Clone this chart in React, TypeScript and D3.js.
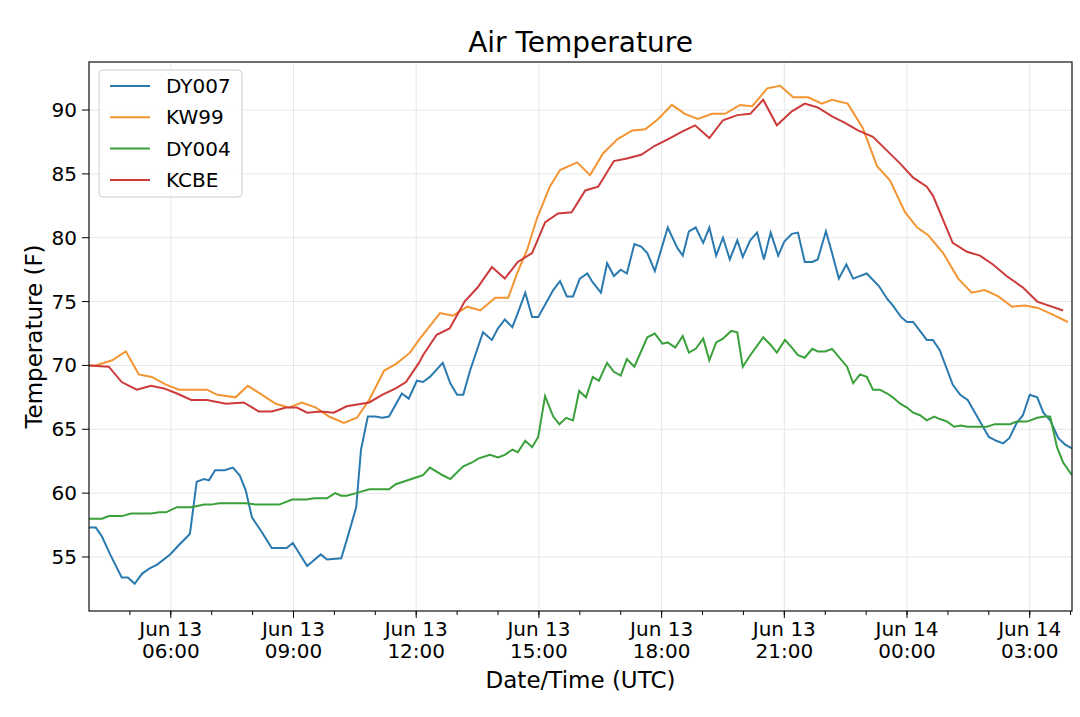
import React from "react";
import * as d3 from "d3";

// [minutes after Jun 13 04:00 UTC, °F]
const DY007: [number, number][] = [[0,57.3],[10,57.3],[19,56.6],[31,55.2],[48,53.4],[57,53.4],[67,52.9],[78,53.7],[89,54.1],[100,54.4],[119,55.2],[133,56.0],[148,56.8],[158,60.9],[169,61.1],[176,61.0],[185,61.8],[199,61.8],[211,62.0],[221,61.4],[230,60.2],[239,58.1],[253,57.0],[268,55.7],[290,55.7],[299,56.1],[320,54.3],[340,55.2],[349,54.8],[370,54.9],[378,56.3],[392,58.9],[399,63.4],[409,66.0],[420,66.0],[430,65.9],[440,66.0],[459,67.8],[469,67.4],[481,68.8],[490,68.7],[500,69.1],[519,70.2],[530,68.6],[540,67.7],[549,67.7],[559,69.6],[578,72.6],[591,72.0],[600,72.9],[610,73.6],[621,73.0],[629,74.1],[640,75.7],[650,73.8],[659,73.8],[681,75.9],[691,76.6],[701,75.4],[710,75.4],[720,76.8],[731,77.2],[739,76.5],[751,75.7],[760,78.0],[770,77.0],[780,77.5],[789,77.2],[800,79.5],[810,79.3],[819,78.8],[830,77.4],[849,80.8],[863,79.2],[871,78.6],[880,80.5],[890,80.8],[901,79.6],[910,80.8],[920,78.6],[930,80.0],[940,78.3],[951,79.8],[959,78.5],[970,79.8],[980,80.4],[990,78.3],[1000,80.4],[1011,78.6],[1020,79.7],[1031,80.3],[1040,80.4],[1050,78.1],[1061,78.1],[1069,78.3],[1081,80.5],[1090,78.8],[1100,76.8],[1111,77.9],[1121,76.8],[1141,77.2],[1159,76.2],[1171,75.2],[1179,74.7],[1191,73.8],[1200,73.4],[1209,73.4],[1229,72.0],[1238,72.0],[1248,71.2],[1267,68.5],[1278,67.7],[1289,67.3],[1307,65.6],[1320,64.4],[1331,64.1],[1341,63.9],[1350,64.3],[1361,65.5],[1370,66.1],[1380,67.7],[1391,67.5],[1400,66.3],[1410,65.7],[1422,64.3],[1432,63.8],[1442,63.5]];
const KW99: [number, number][] = [[0,70.0],[10,70.0],[34,70.4],[54,71.1],[73,69.3],[92,69.1],[113,68.5],[132,68.1],[173,68.1],[188,67.7],[215,67.5],[233,68.4],[254,67.7],[274,67.0],[293,66.7],[312,67.1],[333,66.7],[352,66.0],[374,65.5],[393,65.9],[411,67.3],[433,69.6],[450,70.1],[471,71.0],[484,72.0],[515,74.1],[534,73.9],[555,74.6],[574,74.3],[596,75.3],[615,75.3],[628,77.2],[643,79.1],[657,81.5],[676,84.0],[691,85.3],[716,85.9],[735,84.9],[754,86.6],[775,87.7],[797,88.4],[816,88.5],[835,89.3],[855,90.4],[874,89.7],[893,89.3],[914,89.7],[933,89.7],[955,90.4],[973,90.3],[995,91.7],[1014,91.9],[1033,91.0],[1055,91.0],[1075,90.5],[1090,90.8],[1113,90.5],[1135,88.6],[1156,85.6],[1175,84.5],[1197,82.0],[1215,80.8],[1231,80.2],[1253,78.8],[1275,76.8],[1295,75.7],[1314,75.9],[1334,75.4],[1354,74.6],[1373,74.7],[1392,74.5],[1413,74.0],[1436,73.4]];
const DY004: [number, number][] = [[0,58.0],[19,58.0],[29,58.2],[48,58.2],[62,58.4],[91,58.4],[103,58.5],[113,58.5],[129,58.9],[150,58.9],[169,59.1],[179,59.1],[191,59.2],[230,59.2],[245,59.1],[279,59.1],[298,59.5],[319,59.5],[330,59.6],[349,59.6],[361,60.0],[370,59.8],[378,59.8],[392,60.0],[411,60.3],[440,60.3],[450,60.7],[484,61.3],[490,61.4],[500,62.0],[519,61.4],[530,61.1],[549,62.1],[562,62.4],[571,62.7],[588,63.0],[600,62.8],[610,63.0],[621,63.4],[629,63.2],[640,64.1],[650,63.6],[659,64.4],[669,67.6],[681,66.0],[690,65.4],[700,65.9],[710,65.7],[719,68.0],[729,67.5],[739,69.1],[748,68.8],[760,70.2],[770,69.5],[780,69.2],[789,70.5],[800,69.9],[819,72.2],[830,72.5],[841,71.7],[849,71.8],[860,71.4],[871,72.3],[880,71.0],[890,71.3],[901,72.1],[910,70.4],[920,71.8],[930,72.1],[942,72.7],[951,72.6],[959,69.9],[970,70.8],[989,72.2],[1000,71.6],[1009,71.0],[1021,72.0],[1031,71.4],[1040,70.8],[1050,70.6],[1061,71.3],[1069,71.1],[1080,71.1],[1090,71.3],[1112,69.9],[1121,68.6],[1131,69.3],[1141,69.1],[1150,68.1],[1160,68.1],[1171,67.8],[1179,67.5],[1190,67.0],[1200,66.7],[1209,66.3],[1219,66.1],[1229,65.7],[1240,66.0],[1248,65.8],[1259,65.6],[1269,65.2],[1279,65.3],[1288,65.2],[1317,65.2],[1329,65.4],[1351,65.4],[1361,65.6],[1376,65.6],[1391,65.9],[1402,66.0],[1410,66.0],[1420,63.6],[1429,62.4],[1442,61.4]];
const KCBE: [number, number][] = [[0,70.0],[29,69.9],[48,68.7],[70,68.1],[91,68.4],[110,68.2],[129,67.8],[150,67.3],[173,67.3],[201,67.0],[227,67.1],[249,66.4],[268,66.4],[289,66.7],[305,66.7],[320,66.3],[340,66.4],[359,66.3],[378,66.8],[411,67.1],[430,67.7],[450,68.2],[465,68.7],[484,70.2],[490,70.8],[510,72.4],[529,72.9],[551,75.0],[570,76.1],[591,77.7],[610,76.8],[629,78.1],[650,78.8],[669,81.2],[688,81.9],[708,82.0],[728,83.7],[747,84.0],[770,86.0],[789,86.2],[810,86.5],[830,87.2],[849,87.7],[870,88.3],[889,88.8],[910,87.8],[930,89.2],[951,89.6],[970,89.7],[989,90.8],[1009,88.8],[1031,89.9],[1050,90.5],[1069,90.2],[1090,89.5],[1109,89.0],[1128,88.4],[1150,87.9],[1171,86.8],[1190,85.8],[1209,84.7],[1229,84.0],[1238,83.3],[1267,79.6],[1288,78.9],[1307,78.6],[1326,77.9],[1346,77.0],[1370,76.1],[1391,75.0],[1429,74.3]];

const seriesNames = ["DY007", "KW99", "DY004", "KCBE"];
const seriesData = [DY007, KW99, DY004, KCBE];
const colors = ["#2a7ab0", "#f39532", "#3aa03a", "#cc3a3a"];
const yTicks = [55, 60, 65, 70, 75, 80, 85, 90];

const base = Date.UTC(2019, 5, 13, 4, 0);
const toDate = (m: number) => new Date(base + m * 60000);

export default function App() {
  const W = 1080, H = 717;
  const L = 89, R = 1072, T = 62, B = 611;
  const x = d3.scaleUtc().domain([toDate(0), toDate(1442)]).range([L, R]);
  const y = d3.scaleLinear().domain([50.77, 93.76]).range([B, T]);
  const major = d3.utcHour.every(3)!.range(toDate(60), toDate(1442));
  const minor = d3.utcHour.every(1)!.range(toDate(1), toDate(1442));
  const line = d3.line<[number, number]>().x(d => x(toDate(d[0]))).y(d => y(d[1]));
  const font = "DejaVu Sans, sans-serif";
  const fmtD = d3.utcFormat("%b %d");
  const fmtT = d3.utcFormat("%H:%M");
  return (
    <svg width={W} height={H} style={{ position: "absolute", left: 0, top: 0, background: "#fff" }} fontFamily={font}>
      <rect width={W} height={H} fill="#fff" />
      <clipPath id="c"><rect x={L} y={T} width={R - L} height={B - T} /></clipPath>
      {major.map((d, i) => <line key={"gx" + i} x1={x(d)} x2={x(d)} y1={T} y2={B} stroke="#e6e6e6" strokeWidth={1} />)}
      {yTicks.map(v => <line key={"gy" + v} x1={L} x2={R} y1={y(v)} y2={y(v)} stroke="#e6e6e6" strokeWidth={1} />)}
      <g clipPath="url(#c)">
        {seriesData.map((s, i) => <path key={i} d={line(s)!} fill="none" stroke={colors[i]} strokeWidth={2} />)}
      </g>
      <rect x={L} y={T} width={R - L} height={B - T} fill="none" stroke="#222" strokeWidth={1.3} />
      {minor.map((d, i) => <line key={"mx" + i} x1={x(d)} x2={x(d)} y1={B} y2={B + 4} stroke="#000" />)}
      {major.map((d, i) => (
        <g key={"tx" + i}>
          <line x1={x(d)} x2={x(d)} y1={B} y2={B + 7} stroke="#000" />
          <text x={x(d)} y={B + 25} textAnchor="middle" fontSize={20}>{fmtD(d)}</text>
          <text x={x(d)} y={B + 47} textAnchor="middle" fontSize={20}>{fmtT(d)}</text>
        </g>
      ))}
      {yTicks.map(v => (
        <g key={"ty" + v}>
          <line x1={L - 7} x2={L} y1={y(v)} y2={y(v)} stroke="#000" />
          <text x={L - 12} y={y(v) + 7} textAnchor="end" fontSize={20}>{v}</text>
        </g>
      ))}
      <text x={(L + R) / 2} y={52} textAnchor="middle" fontSize={28}>Air Temperature</text>
      <text x={(L + R) / 2} y={688} textAnchor="middle" fontSize={23}>Date/Time (UTC)</text>
      <text transform={`translate(42,${(T + B) / 2}) rotate(-90)`} textAnchor="middle" fontSize={23}>Temperature (F)</text>
      <rect x={99} y={70} width={143} height={127} rx={4} fill="#fff" fillOpacity={0.8} stroke="#ccc" />
      {seriesNames.map((n, i) => (
        <g key={n}>
          <line x1={110} x2={150} y1={86 + i * 31.3} y2={86 + i * 31.3} stroke={colors[i]} strokeWidth={2} />
          <text x={166} y={93 + i * 31.3} fontSize={20}>{n}</text>
        </g>
      ))}
    </svg>
  );
}
